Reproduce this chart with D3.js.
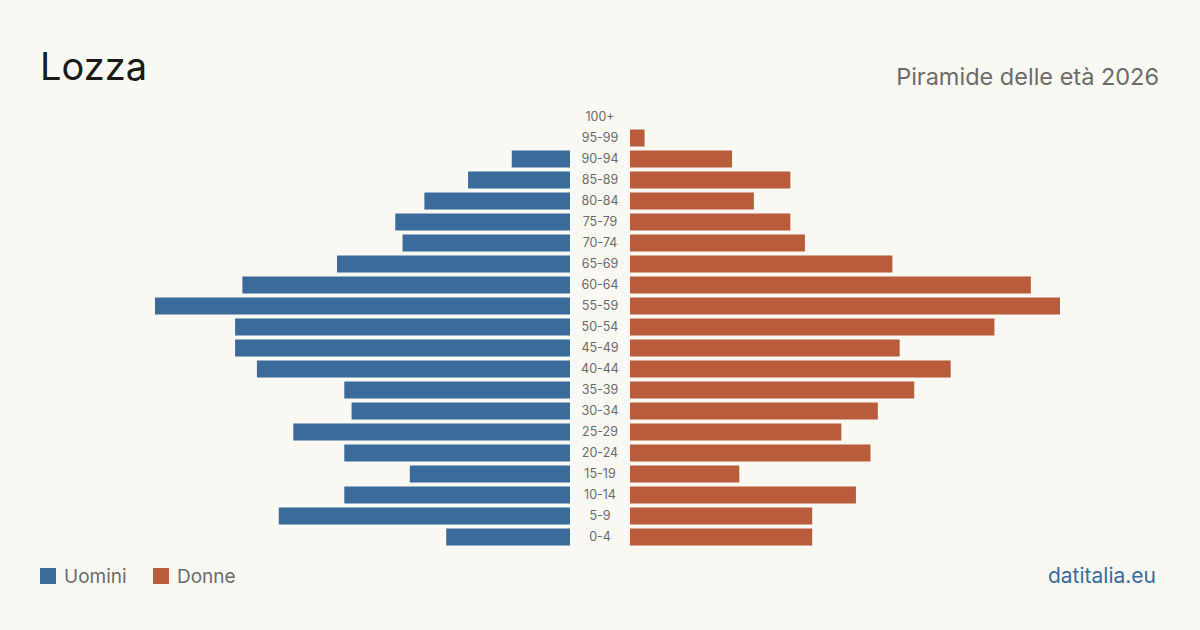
<!DOCTYPE html>
<html>
<head>
<meta charset="utf-8">
<script src="https://cdn.jsdelivr.net/npm/d3@7"></script>
<style>
  html, body { margin: 0; padding: 0; background: #f9f8f3; }
  svg { display: block; font-family: Inter, "Noto Sans", sans-serif; }
</style>
</head>
<body>
<div id="chart"></div>
<script>
  // age groups, top to bottom
  var ageGroups = ['100+', '95-99', '90-94', '85-89', '80-84', '75-79', '70-74', '65-69',
    '60-64', '55-59', '50-54', '45-49', '40-44', '35-39', '30-34', '25-29',
    '20-24', '15-19', '10-14', '5-9', '0-4'];
  var men = [0, 0, 8, 14, 20, 24, 23, 32, 45, 57, 46, 46, 43, 31, 30, 38, 31, 22, 31, 40, 17];
  var women = [0, 2, 14, 22, 17, 22, 24, 36, 55, 59, 50, 37, 44, 39, 34, 29, 33, 15, 31, 25, 25];

  var width = 1200, height = 630;
  var blue = '#3b6b9b', orange = '#b95c3c';

  var svg = d3.select('#chart')
    .append('svg')
    .attr('width', width)
    .attr('height', height);

  svg.append('rect')
    .attr('width', width)
    .attr('height', height)
    .attr('fill', '#f9f8f3');

  // title
  svg.append('text')
    .attr('x', 40)
    .attr('y', 80)
    .style('font-size', '38px')
    .style('fill', '#1a1a1a')
    .text('Lozza');

  svg.append('text')
    .attr('x', 1159)
    .attr('y', 85)
    .attr('text-anchor', 'end')
    .style('font-size', '23.5px')
    .style('fill', '#6b6b6b')
    .text('Piramide delle età 2026');

  var y = d3.scaleBand()
    .domain(ageGroups)
    .range([106.5, 547.5])
    .paddingInner(0.19)
    .paddingOuter(0.095);

  var xLeft = d3.scaleLinear().domain([0, 57]).range([570, 155]);
  var xRight = d3.scaleLinear().domain([0, 59]).range([630, 1060]);

  svg.append('g').selectAll('rect')
    .data(ageGroups)
    .enter().append('rect')
    .attr('x', function(d, i) { return xLeft(men[i]); })
    .attr('y', function(d) { return y(d); })
    .attr('width', function(d, i) { return 570 - xLeft(men[i]); })
    .attr('height', y.bandwidth())
    .attr('fill', blue);

  svg.append('g').selectAll('rect')
    .data(ageGroups)
    .enter().append('rect')
    .attr('x', 630)
    .attr('y', function(d) { return y(d); })
    .attr('width', function(d, i) { return xRight(women[i]) - 630; })
    .attr('height', y.bandwidth())
    .attr('fill', orange);

  svg.append('g').selectAll('text')
    .data(ageGroups)
    .enter().append('text')
    .attr('x', 600)
    .attr('y', function(d) { return y(d) + y.bandwidth() / 2; })
    .attr('dy', '0.35em')
    .attr('text-anchor', 'middle')
    .style('font-size', '12.5px')
    .style('fill', '#6b6b6b')
    .text(function(d) { return d; });

  // legend
  var legend = [
    {label: 'Uomini', color: blue, x: 40},
    {label: 'Donne', color: orange, x: 153}
  ];
  var lg = svg.append('g').selectAll('g')
    .data(legend)
    .enter().append('g');
  lg.append('rect')
    .attr('x', function(d) { return d.x; })
    .attr('y', 568)
    .attr('width', 16)
    .attr('height', 16)
    .attr('fill', function(d) { return d.color; });
  lg.append('text')
    .attr('x', function(d) { return d.x + 24; })
    .attr('y', 583)
    .style('font-size', '19px')
    .style('fill', '#6b6b6b')
    .text(function(d) { return d.label; });

  svg.append('text')
    .attr('x', 1156)
    .attr('y', 583)
    .attr('text-anchor', 'end')
    .style('font-size', '21px')
    .style('fill', '#3b6b9b')
    .text('datitalia.eu');
</script>
</body>
</html>
